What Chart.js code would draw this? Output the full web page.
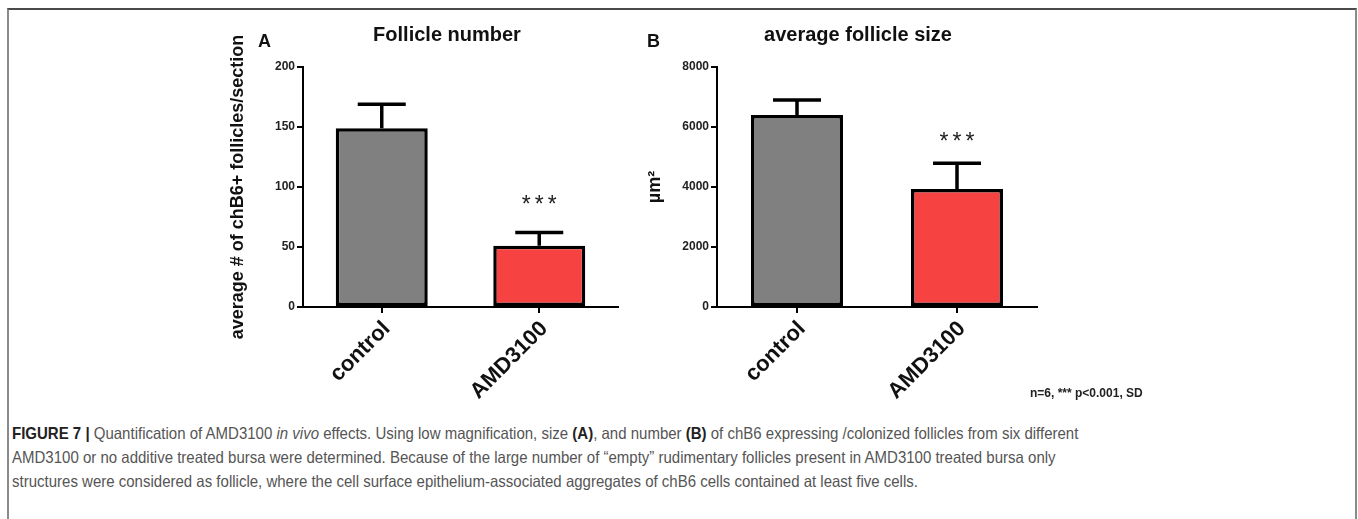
<!DOCTYPE html>
<html>
<head>
<meta charset="utf-8">
<script src="https://cdn.jsdelivr.net/npm/chart.js@4.4.1/dist/chart.umd.min.js"></script>
<style>
  body { margin: 0; width: 1358px; height: 519px; overflow: hidden; background: #fff; position: relative;
         font-family: "Liberation Sans", Arial, sans-serif; }
  #frame { position: absolute; left: 7px; top: 8px; width: 1346px; height: 540px;
           border: 2px solid #8a8a8a; border-top-color: #4a4a4a; }
  .wrap { position: absolute; top: 0; width: 440px; height: 420px; }
  #wrapA { left: 200px; }
  #wrapB { left: 620px; }
  #note { position: absolute; left: 1030px; top: 386px; font: bold 12px "Liberation Sans", Arial, sans-serif;
          color: #222; white-space: nowrap; }
  #caption { position: absolute; left: 12px; top: 421px; font-size: 16.5px; line-height: 24px; color: #555;
             transform-origin: 0 0; white-space: nowrap;
             font-family: "Liberation Sans Narrow", "Liberation Sans", Arial, sans-serif; }
  #caption b { color: #222; }
</style>
</head>
<body>
<div id="frame"></div>
<div class="wrap" id="wrapA"><canvas id="chartA" width="440" height="420"></canvas></div>
<div class="wrap" id="wrapB"><canvas id="chartB" width="440" height="420"></canvas></div>
<div id="note">n=6, *** p&lt;0.001, SD</div>
<div id="caption">
  <div id="line1"><b>FIGURE 7 |</b> Quantification of AMD3100 <i>in vivo</i> effects. Using low magnification, size <b>(A)</b>, and number <b>(B)</b> of chB6 expressing /colonized follicles from six different</div>
  <div>AMD3100 or no additive treated bursa were determined. Because of the large number of “empty” rudimentary follicles present in AMD3100 treated bursa only</div>
  <div>structures were considered as follicle, where the cell surface epithelium-associated aggregates of chB6 cells contained at least five cells.</div>
</div>
<script>
const categories = ['control', 'AMD3100'];

// panel A - follicle number
const follicleNumber = [149, 51];
const follicleNumberSD = [20, 11];
const numberTicks = [0, 50, 100, 150, 200];

// panel B - average follicle size (µm²)
const follicleSize = [6400, 3930];
const follicleSizeSD = [500, 860];
const sizeTicks = [0, 2000, 4000, 6000, 8000];

const significance = ['', '***'];
const barColours = ['#808080', '#f74242'];

Chart.defaults.font.family = '"Liberation Sans", Arial, sans-serif';
Chart.defaults.color = '#111';

// error bars, stars, panel letter and title
const panelDecor = {
  id: 'panelDecor',
  afterDatasetsDraw(chart, args, opts) {
    const ctx = chart.ctx;
    const yScale = chart.scales.y;
    const vals = chart.data.datasets[0].data;
    const meta = chart.getDatasetMeta(0);

    ctx.save();
    ctx.strokeStyle = '#000';
    ctx.lineWidth = 3.5;
    meta.data.forEach((bar, i) => {
      const top = yScale.getPixelForValue(vals[i] + opts.sd[i]);
      ctx.beginPath();
      ctx.moveTo(bar.x, bar.y);
      ctx.lineTo(bar.x, top);
      ctx.moveTo(bar.x - 24, top);
      ctx.lineTo(bar.x + 24, top);
      ctx.stroke();

      if (opts.stars[i]) {
        ctx.fillStyle = '#222';
        ctx.font = '23px "Liberation Sans", Arial, sans-serif';
        ctx.letterSpacing = '4px';
        ctx.textAlign = 'center';
        ctx.textBaseline = 'alphabetic';
        ctx.fillText(opts.stars[i], bar.x + 2, top - opts.starGap);
        ctx.letterSpacing = '0px';
      }
    });

    ctx.fillStyle = '#111';
    ctx.textBaseline = 'alphabetic';
    ctx.font = 'bold 20px "Liberation Sans", Arial, sans-serif';
    ctx.textAlign = 'center';
    ctx.fillText(opts.title, opts.titleX, 41);
    ctx.font = 'bold 18px "Liberation Sans", Arial, sans-serif';
    ctx.textAlign = 'left';
    ctx.fillText(opts.letter, opts.letterX, 47);
    ctx.restore();
  }
};

function makeChart(id, values, sd, ticks, yTitle, decor, pad, yWidth, barPct) {
  return new Chart(document.getElementById(id), {
    type: 'bar',
    data: {
      labels: categories,
      datasets: [{
        data: values,
        backgroundColor: barColours,
        borderColor: '#000',
        borderWidth: 3.5,
        borderSkipped: false,
        categoryPercentage: 1.0,
        barPercentage: barPct
      }]
    },
    options: {
      responsive: false,
      animation: false,
      layout: { padding: pad },
      plugins: {
        legend: { display: false },
        tooltip: { enabled: false },
        panelDecor: Object.assign({ sd: sd, stars: significance }, decor)
      },
      scales: {
        x: {
          grid: { display: true, drawOnChartArea: false, offset: false, tickLength: 6, color: '#000', lineWidth: 2 },
          border: { display: true, color: '#000', width: 2 },
          ticks: { font: { size: 22, weight: 'bold' }, color: '#111', minRotation: 45, maxRotation: 45,
                   padding: 3, labelOffset: 5 },
          afterFit: s => { s.height = 113; }
        },
        y: {
          min: ticks[0],
          max: ticks[ticks.length - 1],
          ticks: { stepSize: ticks[1] - ticks[0], font: { size: 12, weight: 'bold' }, color: '#222', padding: 2,
                   callback: v => String(v) },
          grid: { display: true, drawOnChartArea: false, tickLength: 6, color: '#000', lineWidth: 2 },
          border: { display: true, color: '#000', width: 2 },
          title: { display: true, text: yTitle, font: { size: 18, weight: 'bold' }, color: '#111', padding: { top: 3, bottom: 0 } },
          afterFit: s => { s.width = yWidth; }
        }
      }
    },
    plugins: [panelDecor]
  });
}

makeChart('chartA', follicleNumber, follicleNumberSD, numberTicks,
  'average # of chB6+ follicles/section',
  { title: 'Follicle number', titleX: 247, letter: 'A', letterX: 58, starGap: 21 },
  { left: 24, top: 67, right: 22, bottom: 0 }, 79, 0.584);

makeChart('chartB', follicleSize, follicleSizeSD, sizeTicks,
  'µm²',
  { title: 'average follicle size', titleX: 238, letter: 'B', letterX: 27, starGap: 14 },
  { left: 21, top: 67, right: 23, bottom: 0 }, 76, 0.575);

// squeeze the caption to the condensed width of the original
const cap = document.getElementById('caption');
const line1 = document.getElementById('line1');
const w = line1.scrollWidth;
cap.style.transform = `scaleX(${1066 / w})`;
</script>
</body>
</html>
